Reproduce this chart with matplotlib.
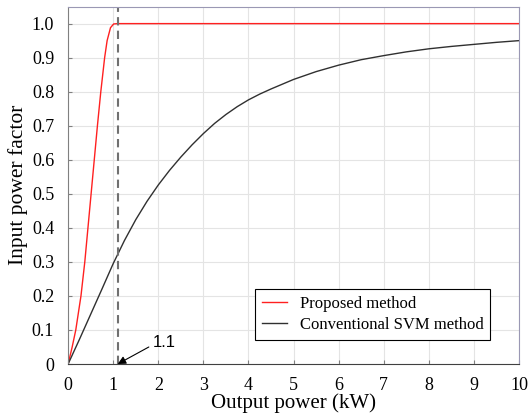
import numpy as np
import matplotlib.pyplot as plt
import matplotlib as mpl

mpl.rcParams.update({"font.family": "Liberation Serif", "font.size": 13})

# proposed method: input power factor vs output power (kW)
p_prop = [0, 0.09, 0.17, 0.285, 0.37, 0.44, 0.51, 0.58, 0.65, 0.725, 0.81,
          0.865, 0.94, 1.01, 1.1, 10]
pf_prop = [0, 0.05, 0.1, 0.2, 0.3, 0.4, 0.5, 0.6, 0.7, 0.8, 0.9,
           0.95, 0.988, 0.999, 1.0, 1.0]

# conventional SVM method
p_svm = [0, 0.25, 0.5, 0.75, 1.0, 1.25, 1.5, 1.75, 2.0, 2.25, 2.5, 2.75, 3.0,
         3.25, 3.5, 3.75, 4.0, 4.25, 4.5, 5.0, 5.5, 6.0, 6.5, 7.0, 7.5, 8.0,
         8.5, 9.0, 9.5, 10.0]
pf_svm = [0, 0.072, 0.146, 0.22, 0.295, 0.363, 0.424, 0.478, 0.526, 0.569,
          0.608, 0.644, 0.677, 0.707, 0.733, 0.756, 0.776, 0.793, 0.808, 0.836,
          0.859, 0.878, 0.894, 0.906, 0.917, 0.926, 0.933, 0.939, 0.945, 0.95]

p_limit = 1.1

fig = plt.figure(figsize=(5.28, 4.2), dpi=100)
ax = fig.add_axes([0.129, 0.1333, 0.854, 0.851])

ax.plot(p_prop, pf_prop, color="#ff2020", lw=1.0, label="Proposed method")
ax.plot(p_svm, pf_svm, color="#303030", lw=1.0, label="Conventional SVM method")
ax.axvline(p_limit, color="#707070", ls="--", lw=1.5, dashes=(4, 2.5))

ax.annotate("", xy=(p_limit, 0), xytext=(1.79, 0.05),
            arrowprops=dict(arrowstyle="-|>", color="black", lw=0.8,
                            shrinkA=0, shrinkB=0, mutation_scale=12))
ax.text(1.88, 0.05, "1.1", fontfamily="Liberation Sans", fontsize=12,
        ha="left", va="baseline")

ax.set_xlim(0, 10)
ax.set_ylim(0, 1.05)
ax.set_xticks(range(11))
ax.set_yticks(np.arange(0, 1.01, 0.1))
ax.set_yticklabels(["0"] + [f"{v:.1f}" for v in np.arange(0.1, 1.01, 0.1)])
ax.tick_params(direction="in", length=3, color="#808080")
ax.tick_params(axis="y", pad=10)
ax.tick_params(axis="x", pad=9)
ax.grid(color="#e4e4e4", lw=0.8)
ax.set_axisbelow(True)

ax.spines["left"].set_color("#808080")
ax.spines["bottom"].set_color("#404040")
ax.spines["top"].set_color("#9a98b4")
ax.spines["right"].set_color("#9a98b4")

ax.set_xlabel("Output power (kW)", fontsize=15, labelpad=0)
ax.set_ylabel("Input power factor", fontsize=15.5, labelpad=3)

leg = ax.legend(loc="lower right", bbox_to_anchor=(0.955, 0.045), fancybox=False,
                edgecolor="black", framealpha=1, handlelength=1.5, fontsize=12,
                borderpad=0.4, labelspacing=0.3)
leg.get_frame().set_linewidth(0.8)

plt.savefig("out.png")
